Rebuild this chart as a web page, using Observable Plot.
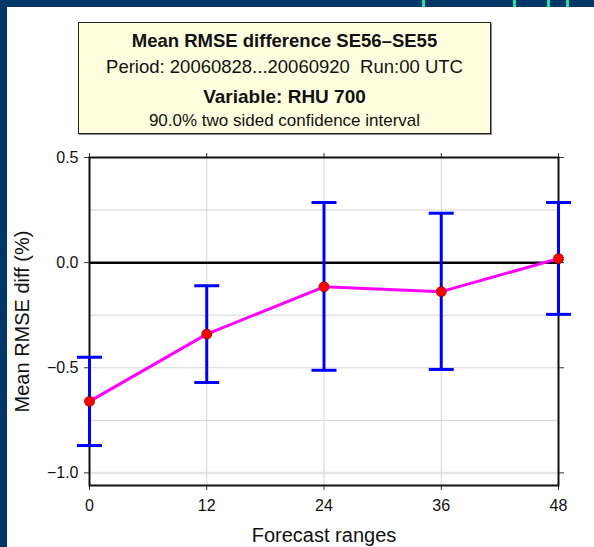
<!DOCTYPE html>
<html>
<head>
<meta charset="utf-8">
<script src="https://cdn.jsdelivr.net/npm/d3@7"></script>
<script src="https://cdn.jsdelivr.net/npm/@observablehq/plot@0.6"></script>
<style>
  html, body { margin: 0; padding: 0; }
  body { width: 594px; height: 547px; background: #003768; position: relative; overflow: hidden;
         font-family: "Liberation Sans", Arial, Helvetica, sans-serif; }
  #panel { position: absolute; left: 7px; top: 7px; right: 0; bottom: 0; background: #ffffff; }
  .deco { position: absolute; top: 0; width: 3px; height: 7px; background: #19e6a0; }
  #titlebox { position: absolute; left: 78px; top: 22px; width: 411px; height: 110px;
              background: #ffffdf; border: 1.5px solid #222; box-shadow: 1px 1px 0 #888; }
  .tl { position: absolute; left: 0; right: 0; text-align: center; white-space: pre; color: #111; line-height: 1; }
  #chart { position: absolute; left: 0; top: 140px; }
</style>
</head>
<body>
<div id="panel"></div>
<div class="deco" style="left:422px"></div>
<div class="deco" style="left:513px"></div>
<div class="deco" style="left:547px"></div>
<div class="deco" style="left:566px"></div>
<div id="titlebox">
  <div class="tl" style="top:9px;font-size:18.5px;font-weight:bold">Mean RMSE difference SE56&#8211;SE55</div>
  <div class="tl" style="top:35px;font-size:18.5px">Period: 20060828...20060920  Run:00 UTC</div>
  <div class="tl" style="top:64px;font-size:19px;font-weight:bold">Variable: RHU 700</div>
  <div class="tl" style="top:89px;font-size:17px">90.0% two sided confidence interval</div>
</div>
<div id="chart"></div>
<script>
// Forecast ranges (hours)
const ranges = [0, 12, 24, 36, 48];
// Mean RMSE difference (%)
const meanDiff = [-0.66, -0.34, -0.115, -0.138, 0.019];
// 90% confidence interval bounds
const ciLow  = [-0.87, -0.57, -0.512, -0.508, -0.246];
const ciHigh = [-0.45, -0.11, 0.286, 0.235, 0.286];
// Tick values
const xTicks = [0, 12, 24, 36, 48];
const yTicks = [-1.0, -0.5, 0.0, 0.5];
const yGrid = [-0.75, -0.5, -0.25, 0.25];
const yGridBottom = [-1.0];
const xGrid = [12, 24, 36];

const data = ranges.map((r, i) => ({range: r, mean: meanDiff[i], lo: ciLow[i], hi: ciHigh[i]}));

const capSymbol = {
  draw(context) {
    context.moveTo(-12.5, 0);
    context.lineTo(12.5, 0);
  }
};

const chart = Plot.plot({
  width: 594,
  height: 407,
  marginLeft: 89,
  marginRight: 36,
  marginTop: 17,
  marginBottom: 62,
  style: {background: "transparent", fontFamily: "Liberation Sans, Arial, Helvetica, sans-serif", fontSize: "16px", color: "#111"},
  x: {domain: [0, 48]},
  y: {domain: [-1.06, 0.5]},
  marks: [
    Plot.gridY(yGrid, {stroke: "#d4d4d4", strokeOpacity: 1, strokeWidth: 1}),
    Plot.gridY(yGridBottom, {stroke: "#e4e4e4", strokeOpacity: 1, strokeWidth: 2.5}),
    Plot.gridX(xGrid, {stroke: "#d4d4d4", strokeOpacity: 1, strokeWidth: 1}),
    Plot.axisX({ticks: xTicks, tickSize: 5, tickPadding: 9, label: null, tickFormat: d3.format("d"), stroke: "#333"}),
    Plot.axisX({anchor: "top", ticks: xTicks, tickSize: 5, label: null, tickFormat: () => "", stroke: "#333"}),
    Plot.axisY({ticks: yTicks, tickSize: 5, tickPadding: 6, label: null, tickFormat: d3.format(".1f"), stroke: "#333"}),
    Plot.axisY({anchor: "right", ticks: yTicks, tickSize: 5, label: null, tickFormat: () => "", stroke: "#333"}),
    Plot.ruleY([0], {stroke: "#000", strokeWidth: 2.5}),
    Plot.frame({stroke: "#111", strokeWidth: 2}),
    Plot.ruleX(data, {x: "range", y1: "lo", y2: "hi", stroke: "#0000ff", strokeWidth: 3}),
    Plot.dot(data, {x: "range", y: "lo", symbol: capSymbol, stroke: "#0000ff", strokeWidth: 3, fill: "none"}),
    Plot.dot(data, {x: "range", y: "hi", symbol: capSymbol, stroke: "#0000ff", strokeWidth: 3, fill: "none"}),
    Plot.line(data, {x: "range", y: "mean", stroke: "#ff00ff", strokeWidth: 3}),
    Plot.dot(data, {x: "range", y: "mean", r: 5, fill: "#ff0000", stroke: "#8a0000", strokeWidth: 0.8}),
    Plot.text(["Mean RMSE diff (%)"], {frameAnchor: "left", dx: -67, rotate: -90, textAnchor: "middle", lineAnchor: "middle", fontSize: 20, fill: "#111"}),
    Plot.text(["Forecast ranges"], {frameAnchor: "bottom", dy: 50, textAnchor: "middle", lineAnchor: "middle", fontSize: 20, fill: "#111"})
  ]
});
document.getElementById("chart").appendChild(chart);
</script>
</body>
</html>
